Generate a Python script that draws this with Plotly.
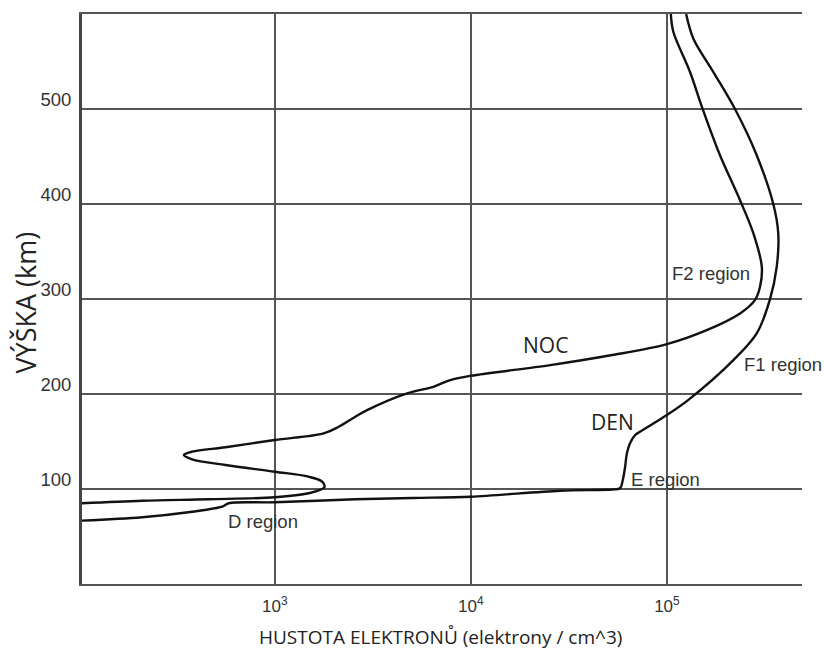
import numpy as np
import plotly.graph_objects as go

# Electron density profiles of the ionosphere (electrons per cm^3 vs altitude in km)
day_density = [104, 211, 379, 540, 583, 1000, 2576, 5035, 10000, 28580, 52600,
               57680, 59570, 61240, 62520, 64860, 68870, 72950, 100000, 128200,
               218300, 287100, 335700, 363100, 369800, 349100, 287100, 222800,
               172600, 136500, 125300]
day_altitude = [66.7, 70.3, 76.1, 81.4, 85.0, 86.0, 89.2, 90.6, 91.9, 98.2, 99.5,
                100.8, 109.5, 123.5, 137.6, 148.1, 156.8, 160.3, 177.9, 193.6,
                235.7, 263.8, 299.9, 333.8, 369.0, 399.8, 451.3, 499.7,
                538.9, 574.0, 600.0]

night_density = [104, 211, 459, 1000, 1486, 1791, 1746, 1486, 1000, 561, 379, 344,
                 379, 561, 1000, 1778, 2118, 2576, 2958, 4732, 6442, 7852, 10000,
                 25410, 52600, 100000, 159600, 236000, 281200, 298500, 304800,
                 276100, 236000, 186600, 152400, 131200, 107900, 104700]
night_altitude = [85.0, 87.7, 89.2, 91.3, 95.5, 101.8, 107.7, 113.0, 118.2, 125.3,
                  131.3, 135.8, 139.3, 143.9, 151.6, 158.6, 165.5, 176.1, 183.1,
                  200.7, 207.6, 214.7, 219.2, 230.4, 241.0, 252.5, 267.2, 284.8,
                  298.8, 312.8, 333.8, 369.0, 404.0, 451.3, 499.7, 538.9, 581.0,
                  600.0]

# Text labels placed on the chart: (text, density, altitude, style)
labels = [
    ("F2 region", 1.67e5, 327, "region"),
    ("F1 region", 3.9e5, 231, "region"),
    ("E region", 9.85e4, 109.5, "region"),
    ("D region", 875, 65.6, "region"),
    ("NOC", 2.39e4, 251.4, "curve"),
    ("DEN", 5.26e4, 170.8, "curve"),
]

y_ticks = [100, 200, 300, 400, 500, 600]
y_ticktext = ["100", "200", "300", "400", "500", ""]
x_ticks = [1e3, 1e4, 1e5]
x_ticktext = ["10<sup>3</sup>", "10<sup>4</sup>", "10<sup>5</sup>"]

x_title = "HUSTOTA ELEKTRONŮ (elektrony / cm^3)"
y_title = "VÝŠKA (km)"

fig = go.Figure()
for dens, alt in [(night_density, night_altitude), (day_density, day_altitude)]:
    fig.add_trace(go.Scatter(
        x=dens, y=alt, mode="lines",
        line=dict(color="#111111", width=2.4, shape="spline", smoothing=0.95),
        showlegend=False, hoverinfo="skip",
    ))

for text, xv, yv, style in labels:
    if style == "region":
        font = dict(family="Liberation Sans, Arial, sans-serif", size=18.5, color="#333333")
    else:
        font = dict(family="Open Sans, sans-serif", size=21, color="#222222")
    fig.add_annotation(x=np.log10(xv), y=yv, xref="x", yref="y", text=text,
                       showarrow=False, font=font, xanchor="center", yanchor="middle")

# Axis titles
fig.add_annotation(x=0.4976, y=-0.093, xref="paper", yref="paper", text=x_title,
                   showarrow=False, xanchor="center", yanchor="middle",
                   font=dict(family="Open Sans, sans-serif", size=19, color="#222222"))
fig.add_annotation(x=-0.079, y=0.494, xref="paper", yref="paper", text=y_title,
                   showarrow=False, xanchor="center", yanchor="middle", textangle=-90,
                   font=dict(family="Open Sans, sans-serif", size=27, color="#222222"))

fig.update_layout(
    width=824, height=650,
    margin=dict(l=81.5, r=22, t=13.6, b=66),
    plot_bgcolor="white", paper_bgcolor="white",
    xaxis=dict(
        type="log", range=[2.017, 5.689], automargin=False,
        tickvals=x_ticks, ticktext=x_ticktext,
        showgrid=True, gridcolor="#555555", gridwidth=2,
        showline=True, mirror=True, linecolor="#555555", linewidth=2,
        zeroline=False, ticks="", ticklabelstandoff=6,
        tickfont=dict(family="Liberation Sans, Arial, sans-serif", size=17, color="#333333"),
    ),
    yaxis=dict(
        range=[0, 600], automargin=False,
        tickvals=y_ticks, ticktext=y_ticktext,
        showgrid=True, gridcolor="#555555", gridwidth=2,
        showline=True, linecolor="#444444", linewidth=3,
        zeroline=False, ticks="",
        ticklabelshift=-9, ticklabelstandoff=4,
        tickfont=dict(family="Liberation Sans, Arial, sans-serif", size=18.5, color="#333333"),
    ),
)

fig.write_html("out.html")
